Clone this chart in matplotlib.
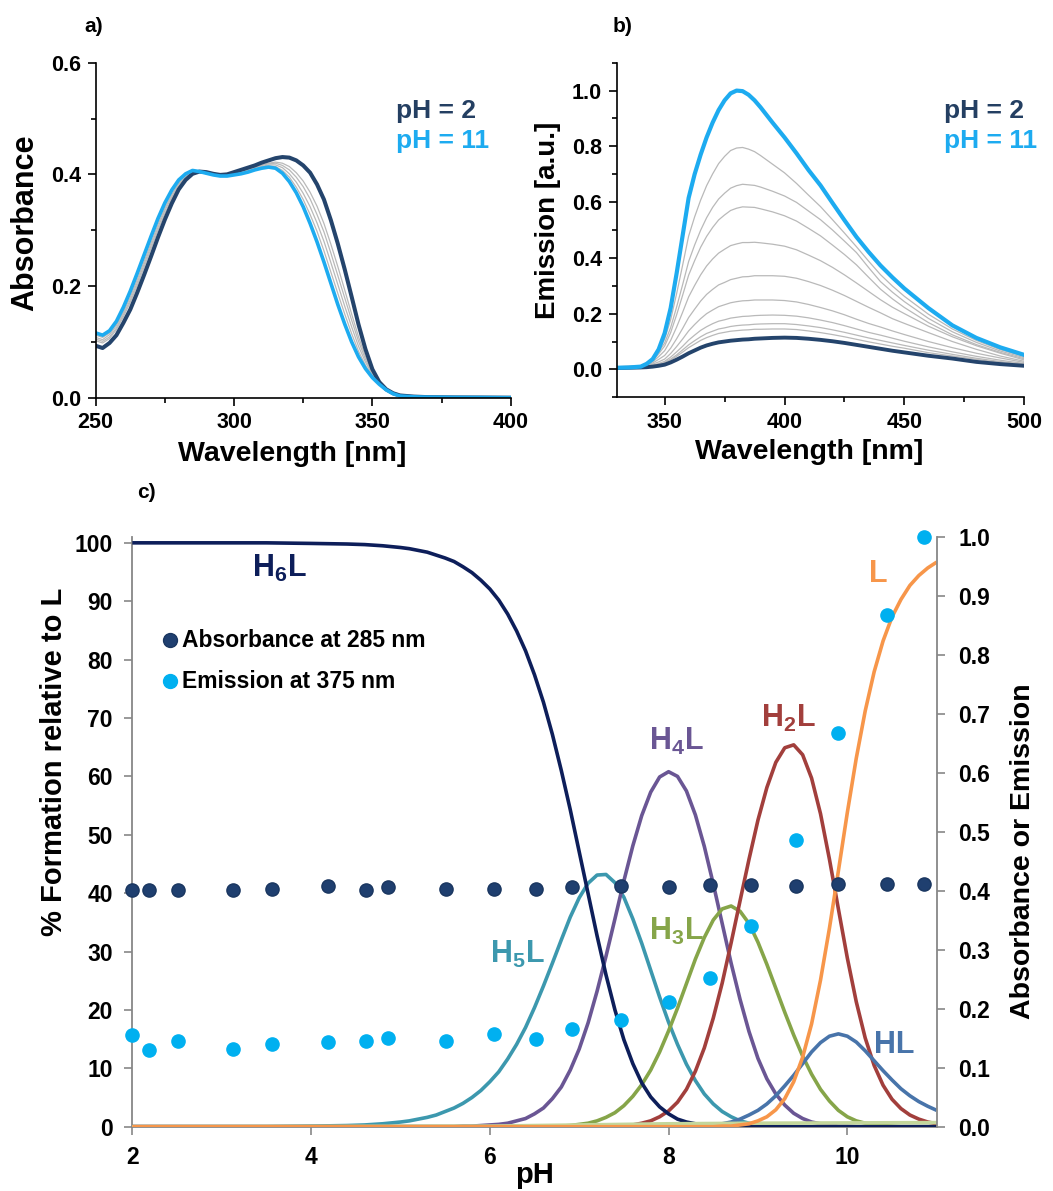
import matplotlib
matplotlib.use("Agg")
import matplotlib.pyplot as plt
from matplotlib.ticker import MultipleLocator, FormatStrFormatter

plt.rcParams["font.family"] = ["Liberation Sans", "DejaVu Sans"]
plt.rcParams["font.weight"] = "bold"
plt.rcParams["mathtext.fontset"] = "custom"
plt.rcParams["mathtext.rm"] = "Liberation Sans:bold"
plt.rcParams["mathtext.bf"] = "Liberation Sans:bold"
plt.rcParams["mathtext.default"] = "bf"

# ---------------- a) UV-vis absorption spectra ----------------
wl_abs = [250, 252.5, 255, 257.5, 260, 262.5, 265, 267.5, 270, 272.5, 275, 277.5, 280, 282.5, 285,
          287.5, 290, 292.5, 295, 297.5, 300, 302.5, 305, 307.5, 310, 312.5, 315, 317.5, 320, 322.5,
          325, 327.5, 330, 332.5, 335, 337.5, 340, 342.5, 345, 347.5, 350, 352.5, 355, 357.5, 360,
          365, 370, 380, 390, 400]
abs_ph2 = [0.093, 0.089, 0.098, 0.112, 0.134, 0.158, 0.188, 0.220, 0.253, 0.287, 0.319, 0.348, 0.373, 0.390, 0.401,
           0.405, 0.404, 0.401, 0.399, 0.400, 0.404, 0.408, 0.412, 0.416, 0.421, 0.425, 0.429, 0.431, 0.430, 0.425,
           0.416, 0.403, 0.382, 0.355, 0.318, 0.276, 0.230, 0.181, 0.131, 0.087, 0.051, 0.028, 0.015, 0.008, 0.004,
           0.002, 0.001, 0.0005, 0.0003, 0.0]
abs_ph11 = [0.116, 0.112, 0.120, 0.137, 0.162, 0.191, 0.223, 0.256, 0.289, 0.321, 0.349, 0.372, 0.390, 0.401, 0.407,
            0.405, 0.402, 0.399, 0.397, 0.397, 0.399, 0.401, 0.404, 0.408, 0.411, 0.413, 0.411, 0.402, 0.387, 0.367,
            0.342, 0.312, 0.279, 0.243, 0.205, 0.167, 0.132, 0.100, 0.073, 0.052, 0.036, 0.024, 0.014, 0.007, 0.003,
            0.0015, 0.001, 0.0005, 0.0003, 0.0]
abs_mid = [
    [0.112, 0.108, 0.116, 0.132, 0.157, 0.185, 0.217, 0.250, 0.283, 0.315, 0.344, 0.368, 0.387, 0.399, 0.406,
     0.405, 0.402, 0.399, 0.397, 0.398, 0.400, 0.402, 0.405, 0.409, 0.413, 0.415, 0.414, 0.407, 0.395, 0.377,
     0.355, 0.328, 0.298, 0.263, 0.225, 0.187, 0.150, 0.115, 0.083, 0.058, 0.039, 0.025, 0.014, 0.007, 0.003,
     0.002, 0.001, 0.0005, 0.0003, 0.0],
    [0.108, 0.104, 0.113, 0.129, 0.153, 0.180, 0.211, 0.244, 0.277, 0.310, 0.339, 0.364, 0.384, 0.397, 0.405,
     0.405, 0.403, 0.400, 0.398, 0.398, 0.401, 0.403, 0.407, 0.411, 0.414, 0.417, 0.417, 0.412, 0.401, 0.386,
     0.366, 0.342, 0.313, 0.280, 0.242, 0.203, 0.164, 0.127, 0.092, 0.064, 0.041, 0.025, 0.014, 0.007, 0.003,
     0.002, 0.001, 0.0005, 0.0003, 0.0],
    [0.105, 0.101, 0.109, 0.125, 0.149, 0.175, 0.206, 0.239, 0.272, 0.305, 0.335, 0.360, 0.382, 0.396, 0.404,
     0.405, 0.403, 0.400, 0.398, 0.398, 0.401, 0.404, 0.408, 0.412, 0.416, 0.419, 0.420, 0.416, 0.408, 0.395,
     0.378, 0.356, 0.328, 0.297, 0.259, 0.219, 0.179, 0.139, 0.101, 0.069, 0.043, 0.026, 0.015, 0.008, 0.004,
     0.002, 0.001, 0.0005, 0.0003, 0.0],
    [0.102, 0.098, 0.106, 0.122, 0.145, 0.171, 0.201, 0.234, 0.267, 0.300, 0.330, 0.357, 0.379, 0.394, 0.403,
     0.405, 0.403, 0.400, 0.398, 0.399, 0.402, 0.405, 0.409, 0.413, 0.417, 0.420, 0.422, 0.420, 0.414, 0.403,
     0.388, 0.368, 0.343, 0.312, 0.275, 0.235, 0.193, 0.150, 0.109, 0.074, 0.045, 0.026, 0.015, 0.008, 0.004,
     0.002, 0.001, 0.0005, 0.0003, 0.0],
]

# ---------------- b) emission spectra ----------------
wl_em = [330, 335, 340, 342.5, 345, 347.5, 350, 352.5, 355, 357.5, 360, 362.5, 365, 367.5, 370,
         372.5, 375, 377.5, 380, 382.5, 385, 387.5, 390, 395, 400, 405, 410, 415, 420, 425, 430,
         435, 440, 445, 450, 460, 470, 480, 490, 500]
em_ph2 = [0.005, 0.006, 0.007, 0.008, 0.010, 0.013, 0.017, 0.025, 0.035, 0.046, 0.058, 0.068, 0.078, 0.086, 0.092,
          0.097, 0.100, 0.103, 0.105, 0.107, 0.108, 0.110, 0.111, 0.113, 0.114, 0.113, 0.110, 0.106, 0.101, 0.095, 0.088,
          0.081, 0.074, 0.067, 0.061, 0.049, 0.039, 0.027, 0.019, 0.013]
em_ph11 = [0.006, 0.007, 0.010, 0.020, 0.037, 0.072, 0.130, 0.220, 0.345, 0.480, 0.615, 0.700, 0.770, 0.832, 0.885,
           0.930, 0.965, 0.990, 1.000, 0.998, 0.985, 0.965, 0.940, 0.885, 0.832, 0.775, 0.715, 0.660, 0.597, 0.535, 0.475,
           0.422, 0.373, 0.330, 0.290, 0.220, 0.158, 0.113, 0.079, 0.052]
em_mid = [
    [0.005, 0.006, 0.008, 0.017, 0.034, 0.066, 0.109, 0.178, 0.272, 0.374, 0.478, 0.547, 0.607, 0.659, 0.701,
     0.738, 0.764, 0.785, 0.794, 0.796, 0.790, 0.781, 0.767, 0.736, 0.705, 0.667, 0.625, 0.584, 0.537, 0.489, 0.440,
     0.389, 0.340, 0.299, 0.262, 0.198, 0.145, 0.104, 0.071, 0.046],
    [0.005, 0.006, 0.008, 0.016, 0.032, 0.063, 0.095, 0.150, 0.224, 0.304, 0.387, 0.446, 0.499, 0.544, 0.581,
     0.611, 0.632, 0.650, 0.659, 0.664, 0.662, 0.660, 0.654, 0.639, 0.622, 0.599, 0.568, 0.537, 0.500, 0.460, 0.419,
     0.366, 0.315, 0.277, 0.243, 0.183, 0.135, 0.097, 0.066, 0.042],
    [0.005, 0.006, 0.008, 0.015, 0.030, 0.056, 0.084, 0.132, 0.196, 0.266, 0.338, 0.390, 0.438, 0.477, 0.509,
     0.536, 0.554, 0.570, 0.578, 0.583, 0.582, 0.581, 0.576, 0.565, 0.551, 0.532, 0.506, 0.479, 0.446, 0.412, 0.375,
     0.331, 0.288, 0.253, 0.222, 0.168, 0.124, 0.089, 0.061, 0.038],
    [0.005, 0.006, 0.008, 0.014, 0.027, 0.046, 0.067, 0.104, 0.152, 0.205, 0.260, 0.301, 0.339, 0.371, 0.396,
     0.417, 0.431, 0.444, 0.450, 0.455, 0.455, 0.456, 0.454, 0.449, 0.442, 0.429, 0.410, 0.390, 0.366, 0.339, 0.310,
     0.280, 0.250, 0.223, 0.200, 0.155, 0.117, 0.085, 0.058, 0.034],
    [0.005, 0.006, 0.008, 0.013, 0.023, 0.036, 0.050, 0.076, 0.110, 0.147, 0.186, 0.216, 0.245, 0.269, 0.287,
     0.303, 0.312, 0.322, 0.327, 0.332, 0.333, 0.336, 0.336, 0.336, 0.334, 0.327, 0.315, 0.301, 0.284, 0.265, 0.244,
     0.223, 0.203, 0.182, 0.165, 0.132, 0.100, 0.072, 0.048, 0.029],
    [0.005, 0.006, 0.008, 0.012, 0.019, 0.027, 0.037, 0.057, 0.082, 0.109, 0.138, 0.161, 0.182, 0.200, 0.213,
     0.225, 0.232, 0.239, 0.243, 0.246, 0.247, 0.249, 0.249, 0.249, 0.247, 0.242, 0.233, 0.222, 0.210, 0.196, 0.180,
     0.165, 0.152, 0.138, 0.125, 0.100, 0.078, 0.058, 0.041, 0.025],
    [0.005, 0.006, 0.008, 0.011, 0.016, 0.021, 0.029, 0.044, 0.063, 0.083, 0.105, 0.123, 0.140, 0.153, 0.164,
     0.173, 0.178, 0.184, 0.187, 0.190, 0.191, 0.193, 0.194, 0.195, 0.194, 0.191, 0.185, 0.177, 0.168, 0.157, 0.145,
     0.133, 0.123, 0.112, 0.101, 0.081, 0.063, 0.047, 0.033, 0.021],
    [0.005, 0.006, 0.008, 0.010, 0.014, 0.018, 0.025, 0.037, 0.052, 0.070, 0.088, 0.103, 0.117, 0.129, 0.137,
     0.145, 0.149, 0.154, 0.157, 0.159, 0.160, 0.162, 0.163, 0.164, 0.164, 0.161, 0.156, 0.150, 0.142, 0.133, 0.123,
     0.113, 0.104, 0.095, 0.086, 0.069, 0.054, 0.040, 0.028, 0.019],
    [0.005, 0.006, 0.008, 0.009, 0.012, 0.016, 0.022, 0.033, 0.047, 0.062, 0.078, 0.091, 0.104, 0.114, 0.122,
     0.129, 0.133, 0.137, 0.139, 0.141, 0.142, 0.144, 0.144, 0.145, 0.145, 0.143, 0.138, 0.132, 0.125, 0.117, 0.108,
     0.099, 0.091, 0.083, 0.076, 0.060, 0.048, 0.036, 0.025, 0.016],
]

# ---------------- c) speciation (% relative to L) ----------------
ph_grid = [2.0, 2.5, 3.0, 3.5, 4.0, 4.4, 4.6, 4.8, 5.0, 5.1, 5.2, 5.3, 5.4, 5.5, 5.6, 5.7, 5.8, 5.9,
           6.0, 6.1, 6.2, 6.3, 6.4, 6.5, 6.6, 6.7, 6.8, 6.9,
           7.0, 7.1, 7.2, 7.3, 7.4, 7.5, 7.6, 7.7, 7.8, 7.9,
           8.0, 8.1, 8.2, 8.3, 8.4, 8.5, 8.6, 8.7, 8.8, 8.9,
           9.0, 9.1, 9.2, 9.3, 9.4, 9.5, 9.6, 9.7, 9.8, 9.9,
           10.0, 10.1, 10.2, 10.3, 10.4, 10.5, 10.6, 10.7, 10.8, 10.9, 11.0]
h6l = [100.0, 100.0, 100.0, 100.0, 99.9, 99.8, 99.7, 99.5, 99.2, 99.0, 98.7, 98.4, 97.9, 97.4, 96.8, 95.9, 94.9, 93.6,
       92.1, 90.2, 87.8, 84.9, 81.5, 77.4, 72.7, 67.2, 61.0, 54.3,
       47.1, 39.9, 32.7, 26.0, 20.0, 14.9, 10.8, 7.5, 5.1, 3.4,
       2.2, 1.3, 0.8, 0.5, 0.3, 0.1, 0.1, 0.0, 0.0, 0.0,
       0.0, 0.0, 0.0, 0.0, 0.0, 0.0, 0.0, 0.0, 0.0, 0.0,
       0.0, 0.0, 0.0, 0.0, 0.0, 0.0, 0.0, 0.0, 0.0, 0.0, 0.0]
h5l = [0.0, 0.0, 0.0, 0.0, 0.1, 0.2, 0.3, 0.5, 0.8, 1.0, 1.3, 1.6, 2.0, 2.6, 3.2, 4.0, 5.0, 6.2,
       7.7, 9.4, 11.6, 14.1, 17.0, 20.4, 24.1, 28.0, 32.0, 35.9,
       39.2, 41.7, 43.1, 43.2, 41.8, 39.3, 35.6, 31.4, 26.8, 22.2,
       17.9, 14.1, 10.7, 7.9, 5.6, 3.9, 2.6, 1.7, 1.0, 0.6,
       0.3, 0.2, 0.1, 0.1, 0.0, 0.0, 0.0, 0.0, 0.0, 0.0,
       0.0, 0.0, 0.0, 0.0, 0.0, 0.0, 0.0, 0.0, 0.0, 0.0, 0.0]
h4l = [0.0, 0.0, 0.0, 0.0, 0.0, 0.0, 0.0, 0.0, 0.0, 0.0, 0.0, 0.0, 0.0, 0.0, 0.0, 0.1, 0.1, 0.2,
       0.3, 0.4, 0.6, 1.0, 1.4, 2.2, 3.2, 4.8, 6.8, 9.7,
       13.3, 17.8, 23.2, 29.2, 35.6, 42.1, 48.1, 53.3, 57.3, 59.9,
       60.8, 60.0, 57.5, 53.4, 48.0, 41.6, 34.8, 28.0, 21.8, 16.3,
       11.7, 8.2, 5.6, 3.7, 2.3, 1.4, 0.8, 0.5, 0.3, 0.1,
       0.1, 0.0, 0.0, 0.0, 0.0, 0.0, 0.0, 0.0, 0.0, 0.0, 0.0]
h3l = [0.0, 0.0, 0.0, 0.0, 0.0, 0.0, 0.0, 0.0, 0.0, 0.0, 0.0, 0.0, 0.0, 0.0, 0.0, 0.0, 0.0, 0.0,
       0.0, 0.0, 0.0, 0.0, 0.0, 0.0, 0.0, 0.1, 0.1, 0.2,
       0.4, 0.6, 1.0, 1.6, 2.4, 3.6, 5.2, 7.2, 9.7, 12.8,
       16.4, 20.3, 24.5, 28.7, 32.4, 35.4, 37.3, 37.8, 36.9, 34.8,
       31.6, 27.8, 23.7, 19.6, 15.7, 12.1, 9.0, 6.4, 4.4, 2.8,
       1.7, 1.0, 0.6, 0.3, 0.2, 0.1, 0.0, 0.0, 0.0, 0.0, 0.0]
h2l = [0.0, 0.0, 0.0, 0.0, 0.0, 0.0, 0.0, 0.0, 0.0, 0.0, 0.0, 0.0, 0.0, 0.0, 0.0, 0.0, 0.0, 0.0,
       0.0, 0.0, 0.0, 0.0, 0.0, 0.0, 0.0, 0.0, 0.0, 0.0,
       0.0, 0.0, 0.0, 0.1, 0.1, 0.2, 0.3, 0.6, 1.0, 1.7,
       2.7, 4.2, 6.4, 9.5, 13.5, 18.6, 24.6, 31.5, 38.7, 45.8,
       52.5, 58.1, 62.4, 64.9, 65.4, 63.7, 59.7, 53.6, 45.8, 37.3,
       28.9, 21.4, 15.2, 10.5, 7.1, 4.7, 3.1, 2.0, 1.3, 0.8, 0.5]
hl = [0.0, 0.0, 0.0, 0.0, 0.0, 0.0, 0.0, 0.0, 0.0, 0.0, 0.0, 0.0, 0.0, 0.0, 0.0, 0.0, 0.0, 0.0,
      0.0, 0.0, 0.0, 0.0, 0.0, 0.0, 0.0, 0.0, 0.0, 0.0,
      0.0, 0.0, 0.0, 0.0, 0.0, 0.0, 0.0, 0.0, 0.0, 0.0,
      0.0, 0.0, 0.1, 0.1, 0.2, 0.3, 0.5, 0.8, 1.3, 2.0,
      2.8, 3.9, 5.3, 7.0, 8.8, 10.8, 12.8, 14.4, 15.5, 15.9,
      15.5, 14.5, 13.0, 11.3, 9.6, 8.0, 6.5, 5.3, 4.3, 3.5, 2.8]
l_free = [0.0, 0.0, 0.0, 0.0, 0.0, 0.0, 0.0, 0.0, 0.0, 0.0, 0.0, 0.0, 0.0, 0.0, 0.0, 0.0, 0.0, 0.0,
          0.0, 0.0, 0.0, 0.0, 0.0, 0.0, 0.0, 0.0, 0.0, 0.0,
          0.0, 0.0, 0.0, 0.0, 0.0, 0.0, 0.0, 0.0, 0.0, 0.0,
          0.0, 0.0, 0.0, 0.0, 0.0, 0.0, 0.1, 0.1, 0.3, 0.5,
          1.0, 1.7, 2.9, 4.8, 7.7, 11.9, 17.6, 25.1, 34.0, 43.8,
          53.8, 63.1, 71.2, 77.9, 83.2, 87.3, 90.3, 92.7, 94.4, 95.7, 96.7]
ph_minor = [2.0, 6.0, 7.0, 8.0, 9.0, 10.0, 11.0]
minor_species = [0.0, 0.1, 0.3, 0.5, 0.6, 0.65, 0.7]

# titration read-outs (right axis)
ph_meas = [2.00, 2.19, 2.51, 3.13, 3.56, 4.19, 4.62, 4.86, 5.51, 6.05,
           6.52, 6.92, 7.47, 8.01, 8.46, 8.92, 9.43, 9.90, 10.44, 10.86]
abs_285 = [0.402, 0.402, 0.401, 0.402, 0.403, 0.408, 0.402, 0.406, 0.403, 0.403,
           0.403, 0.407, 0.409, 0.407, 0.410, 0.410, 0.409, 0.411, 0.411, 0.412]
em_375 = [0.155, 0.130, 0.145, 0.132, 0.140, 0.144, 0.145, 0.150, 0.146, 0.158,
          0.148, 0.166, 0.181, 0.212, 0.253, 0.341, 0.487, 0.668, 0.867, 1.000]

species = [
    (h5l, r"H$_{5}$L", "#3C98AE", (6.00, 28.1)),
    (h4l, r"H$_{4}$L", "#6A5694", (7.78, 64.5)),
    (h3l, r"H$_{3}$L", "#86A549", (7.78, 32.0)),
    (h2l, r"H$_{2}$L", "#A23F3C", (9.03, 68.4)),
    (hl, "HL", "#4874AA", (10.30, 12.6)),
    (h6l, r"H$_{6}$L", "#0D1E5A", (3.34, 94.2)),
]

DARK = "#24446C"
LIGHT = "#1DABF0"
GREY = "#B9B9B9"

W, H = 1053, 1191
fig = plt.figure(figsize=(W / 100, H / 100), dpi=100)


def fx(px):
    return px / W


def fy(py):
    return 1 - py / H


def style_spectrum_axes(ax):
    for s in ("top", "right"):
        ax.spines[s].set_visible(False)
    for s in ("left", "bottom"):
        ax.spines[s].set_linewidth(1.2)
    ax.tick_params(which="major", direction="out", length=6, width=1.2, labelsize=15.5, pad=4.5)
    ax.tick_params(which="minor", direction="out", length=3.5, width=1.2)
    for lab in ax.get_xticklabels() + ax.get_yticklabels():
        lab.set_fontweight("bold")


# ---- panel a
axA = fig.add_axes([fx(95.7), fy(397.7), fx(510.7 - 95.7), (397.7 - 62.7) / H])
for g in abs_mid:
    axA.plot(wl_abs, g, color=GREY, lw=0.9)
axA.plot(wl_abs, abs_ph2, color=DARK, lw=2.9)
axA.plot(wl_abs, abs_ph11, color=LIGHT, lw=2.6)
axA.set_xlim(250, 400)
axA.set_ylim(0, 0.6)
axA.set_xticks([250, 300, 350, 400])
axA.xaxis.set_minor_locator(MultipleLocator(25))
axA.set_yticks([0.0, 0.2, 0.4, 0.6])
axA.yaxis.set_minor_locator(MultipleLocator(0.1))
axA.yaxis.set_major_formatter(FormatStrFormatter("%.1f"))
style_spectrum_axes(axA)

# ---- panel b
axB = fig.add_axes([fx(616.7), fy(397.3), fx(1024.3 - 616.7), (397.3 - 62.7) / H])
for g in em_mid:
    axB.plot(wl_em, g, color=GREY, lw=0.9)
axB.plot(wl_em, em_ph2, color=DARK, lw=2.8)
axB.plot(wl_em, em_ph11, color=LIGHT, lw=3.0)
axB.set_xlim(330, 500)
axB.set_ylim(-0.1, 1.1)
axB.set_xticks([350, 400, 450, 500])
axB.xaxis.set_minor_locator(MultipleLocator(25))
axB.set_yticks([0.0, 0.2, 0.4, 0.6, 0.8, 1.0])
axB.set_yticks([-0.1, 0.1, 0.3, 0.5, 0.7, 0.9, 1.1], minor=True)
axB.yaxis.set_major_formatter(FormatStrFormatter("%.1f"))
style_spectrum_axes(axB)

# panel a / b annotations
fig.text(fx(94), fy(27), "a)", fontsize=15, ha="center", va="center")
fig.text(fx(623), fy(27), "b)", fontsize=15, ha="center", va="center")
for x0 in (395.7, 944):
    fig.text(fx(x0), fy(118), "pH = 2", color="#243F62", fontsize=19, ha="left", va="baseline")
    fig.text(fx(x0), fy(147.7), "pH = 11", color=LIGHT, fontsize=19, ha="left", va="baseline")
fig.text(fx(25), fy(222.7), "Absorbance", fontsize=22, rotation=90, ha="center", va="center")
fig.text(fx(291.7), fy(454), "Wavelength [nm]", fontsize=20.5, ha="center", va="center")
fig.text(fx(548.3), fy(220.8), "Emission [a.u.]", fontsize=20, rotation=90, ha="center", va="center")
fig.text(fx(809), fy(452), "Wavelength [nm]", fontsize=20.5, ha="center", va="center")

# ---- panel c
AX_GREY = "#878787"
axC = fig.add_axes([fx(132.3), fy(1126.7), fx(936.7 - 132.3), (1126.7 - 537.0) / H])
for vals, label, color, (tx, ty) in species:
    axC.plot(ph_grid, vals, color=color, lw=2.6, zorder=3, solid_capstyle="butt")
    axC.text(tx, ty, label, color=color, fontsize=22, ha="left", va="baseline")
axC.plot(ph_minor, minor_species, color="#C3D69B", lw=2.6, zorder=3)
axC.plot(ph_grid, l_free, color="#F7964A", lw=2.6, zorder=3, solid_capstyle="butt")
axC.text(10.245, 93.3, "L", color="#F7964A", fontsize=22, ha="left", va="baseline")

axC.set_xlim(2, 11)
axC.set_ylim(0, 101)
axC.set_xticks([2, 4, 6, 8, 10])
axC.set_yticks(range(0, 101, 10))
for s in ("top", "right"):
    axC.spines[s].set_visible(False)
for s in ("left", "bottom"):
    axC.spines[s].set_color(AX_GREY)
    axC.spines[s].set_linewidth(1.3)
axC.tick_params(direction="out", length=5.5, width=1.2, color=AX_GREY, labelsize=16.5, pad=8.5)

axC2 = axC.twinx()
axC2.set_ylim(0, 1.0)
axC2.set_yticks([i / 10 for i in range(11)])
axC2.yaxis.set_major_formatter(FormatStrFormatter("%.1f"))
for s in ("top", "left", "bottom"):
    axC2.spines[s].set_visible(False)
axC2.spines["right"].set_color(AX_GREY)
axC2.spines["right"].set_linewidth(1.3)
axC2.tick_params(direction="out", length=5.5, width=1.2, color=AX_GREY, labelsize=16.5, pad=10)
axC2.plot(ph_meas, abs_285, "o", color="#1F3F6F", mec="#1A3660", ms=9.5, clip_on=False, zorder=4)
axC2.plot(ph_meas, em_375, "o", color="#00B0F0", mec="#00B0F0", ms=9.5, clip_on=False, zorder=4)

for ax in (axC, axC2):
    for lab in ax.get_xticklabels() + ax.get_yticklabels():
        lab.set_fontweight("bold")

# legend for the two read-outs
axC.plot([0.0469], [0.8253], "o", color="#1F3F6F", mec="#1A3660", ms=10, transform=axC.transAxes, clip_on=False)
axC.plot([0.0469], [0.7558], "o", color="#00B0F0", mec="#00B0F0", ms=10, transform=axC.transAxes, clip_on=False)
axC.text(0.0614, 0.8253, "Absorbance at 285 nm", transform=axC.transAxes, fontsize=16.5, ha="left", va="center")
axC.text(0.0614, 0.7558, "Emission at 375 nm", transform=axC.transAxes, fontsize=16.5, ha="left", va="center")

fig.text(fx(146), fy(492), "c)", fontsize=15, ha="center", va="center")
fig.text(fx(54.4), fy(762), "% Formation relative to L", fontsize=21, rotation=90, ha="center", va="center")
fig.text(fx(1023.5), fy(851.5), "Absorbance or Emission", fontsize=20.5, rotation=90, ha="center", va="center")
fig.text(fx(535), fy(1183), "pH", fontsize=21, ha="center", va="baseline")

fig.savefig("out.png", dpi=100)
